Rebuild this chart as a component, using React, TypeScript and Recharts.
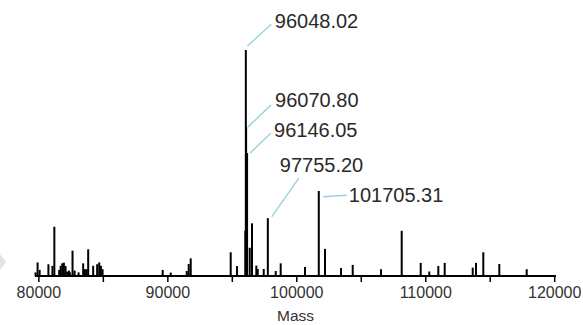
import { ComposedChart, Bar, Scatter, XAxis, YAxis } from 'recharts'

// peak masses (Da) and relative intensities (% of base peak)
const masses = [
  79740, 79900, 80060, 80740, 81050, 81200, 81575, 81685, 81810, 81940,
  82070, 82200, 82330, 82410, 82610, 82770, 83080, 83435, 83570, 83700,
  83825, 84210, 84520, 84680, 84810, 84940,
  89600, 90225, 91465, 91620, 91775,
  94875, 95364, 96010, 96048.02, 96070.8, 96146.05, 96350, 96527, 96862,
  96970, 97435, 97755.2, 98365, 98752,
  100637, 101705.31, 102188, 103430, 104336, 106530, 108135, 109608, 110276,
  110974, 111470, 113641, 113897, 114463, 115704, 117828,
]
const intensities = [
  1.6, 6, 2.7, 5.2, 4.5, 21.8, 2.7, 4.5, 5.6, 5.9,
  4.4, 1.9, 2.4, 1.6, 11.2, 2.4, 1.6, 5.6, 3, 3,
  11.8, 4.5, 5.2, 6, 4.5, 3,
  2.7, 1.5, 2.2, 5.3, 7.8,
  10.5, 4.4, 20, 100, 66, 54.4, 12.5, 23.3, 4.6,
  3.1, 3.1, 25.6, 2.2, 5.6,
  4, 37.6, 12, 3.5, 4.9, 3, 20, 5.8, 2,
  4.4, 5.8, 3.7, 5.8, 10.5, 5.3, 3,
]

// annotated peaks
const labelMasses = [96048.02, 96070.8, 96146.05, 97755.2, 101705.31]
const labelIntensities = [100, 66, 54.4, 25.6, 37.6]
const labelTexts = ['96048.02', '96070.80', '96146.05', '97755.20', '101705.31']

const xTicks = [80000, 85000, 90000, 95000, 100000, 105000, 110000, 115000, 120000]

// leader line start/end and text offsets relative to the peak top
const leaderOffsets = [
  [1.5, -4, 25.5, -25.7, 29, -29],
  [2, 0, 25, -22, 29, -27],
  [3, 0, 24, -20, 27, -23],
  [4, -1.5, 31, -40, 12, -53],
  [4.5, 5.7, 28, 4.3, 30, 4],
]

const peaks = masses.map((m, i) => ({ mass: m, intensity: intensities[i] }))
const labeled = labelMasses.map((m, i) => ({ mass: m, intensity: labelIntensities[i], text: labelTexts[i], idx: i }))

// draw each peak as a 2px stick centred on its mass
const Stick = (props: any) => {
  const { x, y, width, height } = props
  if (height == null || height <= 0) return null
  const cx = x + width / 2
  return <rect x={cx - 1} y={y} width={2} height={height} fill="#000" />
}

const PeakLabel = (props: any) => {
  const { cx, cy, payload } = props
  const o = leaderOffsets[payload.idx]
  return (
    <g>
      <line x1={cx + o[0]} y1={cy + o[1]} x2={cx + o[2]} y2={cy + o[3]} stroke="#9fd2e0" strokeWidth={1.5} />
      <text x={cx + o[4]} y={cy + o[5]} dominantBaseline="central" fontSize={20} fill="#2a2a2a"
        fontFamily="'Liberation Sans', Arial, sans-serif">
        {payload.text}
      </text>
    </g>
  )
}

export default function App() {
  return (
    <div style={{ position: 'absolute', left: 0, top: 0, width: 583, height: 325, background: '#fff' }}>
      <svg width={10} height={325} style={{ position: 'absolute', left: 0, top: 0 }}>
        <polygon points="0,254 6,262 0,270" fill="#e3e3e3" />
      </svg>
      <ComposedChart
        width={583}
        height={325}
        data={peaks}
        margin={{ top: 50, right: 27, left: 35, bottom: 0 }}
        style={{ fontFamily: "'Liberation Sans', Arial, sans-serif" }}
      >
        <XAxis
          dataKey="mass"
          type="number"
          domain={[79700, 120100]}
          ticks={xTicks}
          tickFormatter={(v: number) => (v % 10000 === 0 ? String(v) : '')}
          tickSize={6}
          tickMargin={5}
          height={49}
          axisLine={{ stroke: '#000', strokeWidth: 2 }}
          tickLine={{ stroke: '#000', strokeWidth: 1.5 }}
          tick={{ fontSize: 16, fill: '#333' }}
          label={{ value: 'Mass', position: 'insideBottom', offset: 4, fontSize: 15.5, fill: '#333' }}
        />
        <YAxis type="number" domain={[0, 100]} hide />
        <Bar dataKey="intensity" fill="#000" shape={Stick} isAnimationActive={false} />
        <Scatter data={labeled} dataKey="intensity" shape={PeakLabel} isAnimationActive={false} />
      </ComposedChart>
    </div>
  )
}
